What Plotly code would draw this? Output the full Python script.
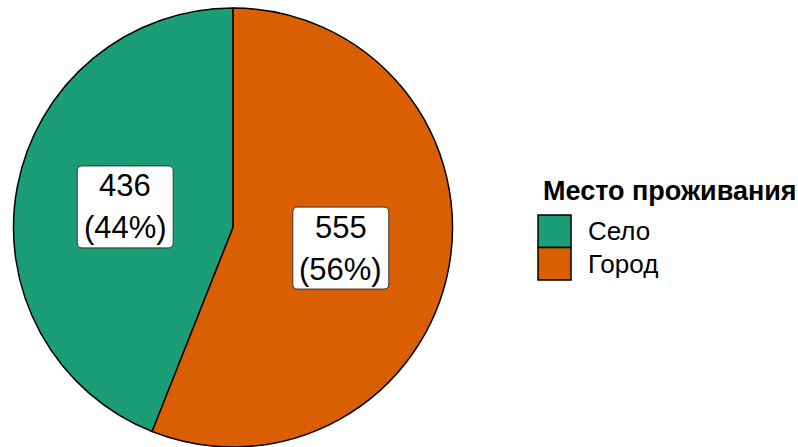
import numpy as np
import plotly.graph_objects as go

# Data
labels = ["Село", "Город"]
counts = [436, 555]
colors = ["#1B9E77", "#D95F02"]
legend_title = "Место проживания"

W, H = 798, 447
M_TOP = 8
FONT = "Liberation Sans, Arial, sans-serif"

# pie placement in pixels
PIE_X0, PIE_X1 = 13, 453
CX = (PIE_X0 + PIE_X1) / 2
CY = M_TOP + (H - M_TOP) / 2
R = min(PIE_X1 - PIE_X0, H - M_TOP) / 2

vals = np.array(counts, dtype=float)
frac = vals / vals.sum()


def px_to_paper(x, y):
    return x / W, 1 - (y - M_TOP) / (H - M_TOP)


# first slice ends at 12 o'clock, the second one starts there (clockwise)
fig = go.Figure(
    go.Pie(
        labels=labels,
        values=counts,
        sort=False,
        direction="clockwise",
        rotation=-360 * frac[0],
        marker=dict(colors=colors, line=dict(color="black", width=1.5)),
        textinfo="none",
        hoverinfo="label+value+percent",
        showlegend=False,
        domain=dict(x=[PIE_X0 / W, PIE_X1 / W], y=[0, 1]),
    )
)

shapes = []
annotations = []


def rounded_rect(x0, y0, x1, y1, r):
    # rectangle with rounded corners, given in pixels, as a paper-space path
    def p(x, y):
        u, v = px_to_paper(x, y)
        return f"{u:.6f},{v:.6f}"
    return (
        f"M{p(x0 + r, y0)} L{p(x1 - r, y0)} Q{p(x1, y0)} {p(x1, y0 + r)} "
        f"L{p(x1, y1 - r)} Q{p(x1, y1)} {p(x1 - r, y1)} "
        f"L{p(x0 + r, y1)} Q{p(x0, y1)} {p(x0, y1 - r)} "
        f"L{p(x0, y0 + r)} Q{p(x0, y0)} {p(x0 + r, y0)} Z"
    )


# value labels at half radius, mid-angle of each slice
# (on screen the slices run counterclockwise from 12 o'clock)
cum = np.cumsum(frac) - frac / 2
for c, f, m in zip(counts, frac, cum):
    ang = 2 * np.pi * m
    lx = CX - np.sin(ang) * R * 0.5
    ly = CY - np.cos(ang) * R * 0.5
    bw, bh = 96, 82
    shapes.append(dict(
        type="path", xref="paper", yref="paper",
        path=rounded_rect(lx - bw / 2, ly - bh / 2, lx + bw / 2, ly + bh / 2, 5),
        fillcolor="white", line=dict(color="#333333", width=1),
    ))
    for txt, dy in ((str(c), -21), (f"({f * 100:.0f}%)", 21)):
        ux, uy = px_to_paper(lx, ly + dy)
        annotations.append(dict(
            x=ux, y=uy, xref="paper", yref="paper", text=txt, showarrow=False,
            xanchor="center", yanchor="middle",
            font=dict(family=FONT, size=31, color="black"),
        ))

# legend
tx, ty = px_to_paper(541, 191)
annotations.append(dict(
    x=tx, y=ty, xref="paper", yref="paper", text=f"<b>{legend_title}</b>",
    showarrow=False, xanchor="left", yanchor="middle",
    font=dict(family=FONT, size=27, color="black"),
))
key_x0, key_x1 = 538, 571
key_top, key_h = 215, 32.5
for i, (lab, col) in enumerate(zip(labels, colors)):
    y0 = key_top + i * key_h
    a0 = px_to_paper(key_x0, y0)
    a1 = px_to_paper(key_x1, y0 + key_h)
    shapes.append(dict(
        type="rect", xref="paper", yref="paper",
        x0=a0[0], x1=a1[0], y0=a1[1], y1=a0[1],
        fillcolor=col, line=dict(color="black", width=1.5),
    ))
    lx_, ly_ = px_to_paper(586, y0 + key_h / 2)
    annotations.append(dict(
        x=lx_, y=ly_, xref="paper", yref="paper", text=lab, showarrow=False,
        xanchor="left", yanchor="middle",
        font=dict(family=FONT, size=26, color="black"),
    ))

fig.update_layout(
    width=W, height=H,
    margin=dict(l=0, r=0, t=M_TOP, b=0),
    paper_bgcolor="white", plot_bgcolor="white",
    shapes=shapes, annotations=annotations,
    showlegend=False,
)

fig.write_html("out.html")
